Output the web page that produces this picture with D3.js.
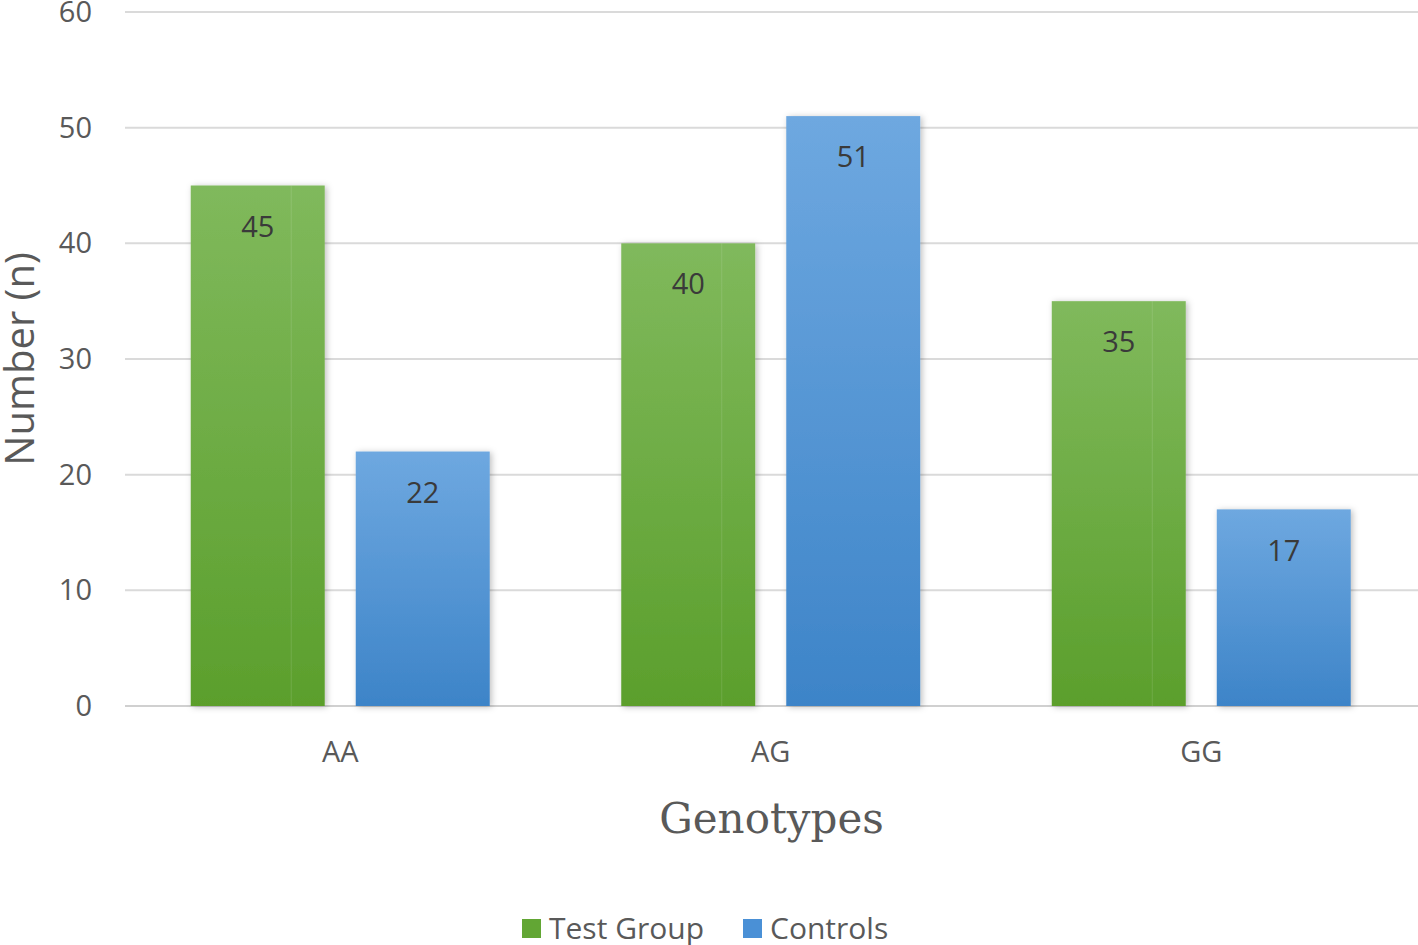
<!DOCTYPE html>
<html>
<head>
<meta charset="utf-8">
<script src="https://cdn.jsdelivr.net/npm/d3@7"></script>
<style>
  body { margin: 0; background: #fff; }
  svg { display: block; }
</style>
</head>
<body>
<div id="chart"></div>
<script>
const genotypes = ['AA', 'AG', 'GG']
const seriesNames = ['Test Group', 'Controls']
const testGroup = [45, 40, 35]
const controls = [22, 51, 17]
const yTicks = [0, 10, 20, 30, 40, 50, 60]

const W = 1418
const H = 945
const margin = { left: 125, right: 1.5, top: 12, bottom: 239 }

const svg = d3.select('#chart').append('svg')
  .attr('width', W)
  .attr('height', H)
  .style('font-family', "'Open Sans', 'Noto Sans', sans-serif")

const defs = svg.append('defs')
const grads = [
  { id: 'gGreen', top: '#80b95c', bottom: '#5b9f2c' },
  { id: 'gBlue', top: '#6ea8e0', bottom: '#3d84c8' },
]
grads.forEach(c => {
  const lg = defs.append('linearGradient')
    .attr('id', c.id)
    .attr('x1', 0).attr('y1', 0).attr('x2', 0).attr('y2', 1)
  lg.append('stop').attr('offset', '0%').attr('stop-color', c.top)
  lg.append('stop').attr('offset', '100%').attr('stop-color', c.bottom)
})
const shadow = defs.append('filter').attr('id', 'shadow')
  .attr('x', '-10%').attr('y', '-10%').attr('width', '130%').attr('height', '120%')
shadow.append('feDropShadow')
  .attr('dx', 2).attr('dy', 1).attr('stdDeviation', 3)
  .attr('flood-color', '#000').attr('flood-opacity', 0.25)

const fills = ['url(#gGreen)', 'url(#gBlue)']
const legendColors = ['#62a634', '#4a90d6']

const x0 = d3.scaleBand()
  .domain(genotypes)
  .range([margin.left, W - margin.right])
  .paddingInner(0.3055)
  .paddingOuter(0.1527)

const x1 = d3.scaleBand()
  .domain(seriesNames)
  .range([0, x0.bandwidth()])
  .paddingInner(0.188)

const y = d3.scaleLinear()
  .domain([0, 60])
  .range([H - margin.bottom, margin.top])

// gridlines
svg.append('g')
  .selectAll('line')
  .data(yTicks)
  .join('line')
  .attr('x1', margin.left)
  .attr('x2', W)
  .attr('y1', d => y(d))
  .attr('y2', d => y(d))
  .attr('stroke', d => d === 0 ? '#d0d0d0' : '#dadada')
  .attr('stroke-width', 2)

// y tick labels
svg.append('g')
  .selectAll('text')
  .data(yTicks)
  .join('text')
  .attr('x', 92)
  .attr('y', d => y(d))
  .attr('dy', '0.35em')
  .attr('text-anchor', 'end')
  .attr('font-size', '29px')
  .attr('fill', '#595959')
  .text(d => d)

// bars
const rows = genotypes.map((g, i) => ({
  genotype: g,
  values: [
    { series: seriesNames[0], value: testGroup[i], k: 0 },
    { series: seriesNames[1], value: controls[i], k: 1 },
  ],
}))

const groups = svg.append('g')
  .selectAll('g')
  .data(rows)
  .join('g')
  .attr('transform', d => `translate(${x0(d.genotype)}, 0)`)

groups.selectAll('rect')
  .data(d => d.values)
  .join('rect')
  .attr('x', d => x1(d.series))
  .attr('y', d => y(d.value))
  .attr('width', x1.bandwidth())
  .attr('height', d => y(0) - y(d.value))
  .attr('fill', d => fills[d.k])
  .attr('filter', 'url(#shadow)')

// faint vertical seam seen in the original bars
groups.selectAll('line.seam')
  .data(d => d.values.filter(v => v.k === 0))
  .join('line')
  .attr('class', 'seam')
  .attr('x1', d => x1(d.series) + x1.bandwidth() * 0.75)
  .attr('x2', d => x1(d.series) + x1.bandwidth() * 0.75)
  .attr('y1', d => y(d.value))
  .attr('y2', y(0))
  .attr('stroke', '#ffffff')
  .attr('stroke-opacity', 0.12)

groups.selectAll('text')
  .data(d => d.values)
  .join('text')
  .attr('x', d => x1(d.series) + x1.bandwidth() / 2)
  .attr('y', d => y(d.value) + 41)
  .attr('dy', '0.35em')
  .attr('text-anchor', 'middle')
  .attr('font-size', '29px')
  .attr('fill', '#3a3a3a')
  .text(d => d.value)

// x tick labels
svg.append('g')
  .selectAll('text')
  .data(genotypes)
  .join('text')
  .attr('x', d => x0(d) + x0.bandwidth() / 2)
  .attr('y', 752)
  .attr('dy', '0.35em')
  .attr('text-anchor', 'middle')
  .attr('font-size', '29px')
  .attr('fill', '#595959')
  .text(d => d)

// x axis title
svg.append('text')
  .attr('x', (margin.left + W) / 2)
  .attr('y', 818)
  .attr('dy', '0.35em')
  .attr('text-anchor', 'middle')
  .attr('font-family', "'DejaVu Serif', 'Liberation Serif', serif")
  .attr('font-size', '42px')
  .attr('fill', '#595959')
  .text('Genotypes')

// y axis title
svg.append('text')
  .attr('transform', `translate(20, ${359}) rotate(-90)`)
  .attr('dy', '0.35em')
  .attr('text-anchor', 'middle')
  .attr('font-size', '40px')
  .attr('fill', '#595959')
  .text('Number (n)')

// legend
const legendItems = [
  { name: seriesNames[0], x: 522, color: legendColors[0] },
  { name: seriesNames[1], x: 743, color: legendColors[1] },
]
const legend = svg.append('g')
legendItems.forEach(it => {
  legend.append('rect')
    .attr('x', it.x)
    .attr('y', 919)
    .attr('width', 19)
    .attr('height', 19)
    .attr('fill', it.color)
  legend.append('text')
    .attr('x', it.x + 27)
    .attr('y', 928)
    .attr('dy', '0.35em')
    .attr('font-size', '30px')
    .attr('fill', '#595959')
    .text(it.name)
})
</script>
</body>
</html>
